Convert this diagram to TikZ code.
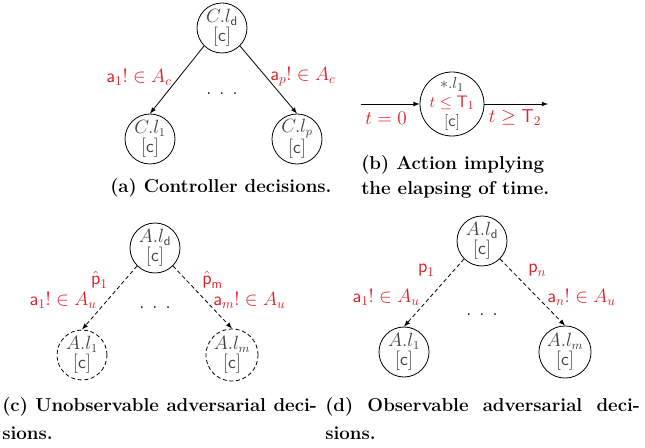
\documentclass[tikz,border=0pt]{standalone}
\usepackage{amsmath,amssymb}
\usepackage{xcolor}
\usepackage{tikz}
\usetikzlibrary{shapes,arrows,positioning,calc}

\definecolor{lblred}{RGB}{222,32,40}
\definecolor{locgray}{RGB}{64,64,64}

\begin{document}
\begin{tikzpicture}[
    x=0.75pt, y=-0.75pt,
    state/.style={draw, circle, line width=0.6pt, minimum size=37.5pt, inner sep=0pt, align=center, text=locgray, font=\fontsize{13.5}{14.5}\selectfont},
    hidden/.style={state, densely dashed},
    timed/.style={state, minimum size=48pt, inner sep=-5pt, font=\fontsize{12.5}{14}\selectfont},
    lbl/.style={text=lblred, inner sep=0pt, font=\fontsize{14}{15}\selectfont},
    dots/.style={inner sep=0pt, font=\fontsize{14}{15}\selectfont},
    caption/.style={inner sep=0pt, anchor=west, align=left, font=\fontsize{14}{19}\selectfont\bfseries},
    longcap/.style={caption, anchor=north west, text width=236pt, align=justify, font=\fontsize{14}{21}\selectfont\bfseries},
    arrow/.style={-latex, line width=0.6pt},
    darrow/.style={arrow, densely dashed}
]
\useasboundingbox (0,0) rectangle (645,448);

% (a) controller decisions
\node[state] (ad) at (222,28) {$C.l_{\textsf{d}}$\\$[\textsf{c}]$};
\node[state] (a1) at (150,139) {$C.l_1$\\$[\textsf{c}]$};
\node[state] (ap) at (297,139) {$C.l_p$\\$[\textsf{c}]$};
\draw[arrow] (ad.south west) -- (a1.north);
\draw[arrow] (ad.south east) -- (ap.north);
\node[lbl, anchor=east] (a1lbl) at (172,77) {$\textsf{a}_1! \in A_c$};
\node[lbl, anchor=west] (aplbl) at (270,77) {$\textsf{a}_p! \in A_c$};
\node[dots] (adots) at (222,94) {.\hspace{6pt}.\hspace{6pt}.};
\node[caption] (acap) at (110,188) {(a) Controller decisions.};

% (b) elapsing of time
\node[timed] (b1) at (452,104) {$*.l_1$\\\textcolor{lblred}{$t \leq \textsf{T}_1$}\\$[\textsf{c}]$};
\coordinate (bin) at (361,104);
\coordinate (bout) at (548,104);
\draw[arrow] (bin) -- (b1);
\draw[arrow] (b1) -- (bout);
\node[lbl] (binlbl) at (386,118) {$t = 0$};
\node[lbl] (boutlbl) at (515,118) {$t \geq \textsf{T}_2$};
\node[caption] (bcap) at (361,177) {(b) Action implying\\the elapsing of time.};

% (c) unobservable adversarial decisions
\node[state] (cd) at (155,248) {$A.l_{\textsf{d}}$\\$[\textsf{c}]$};
\node[hidden] (c1) at (82,355) {$A.l_1$\\$[\textsf{c}]$};
\node[hidden] (cm) at (232,355) {$A.l_m$\\$[\textsf{c}]$};
\draw[darrow] (cd.south west) -- (c1.north);
\draw[darrow] (cd.south east) -- (cm.north);
\node[lbl, anchor=east] (c1p) at (108,280) {$\hat{\textsf{p}}_1$};
\node[lbl, anchor=east] (c1lbl) at (97,300) {$\textsf{a}_1! \in A_u$};
\node[lbl, anchor=west] (cmp) at (202,280) {$\hat{\textsf{p}}_{\textsf{m}}$};
\node[lbl, anchor=west] (cmlbl) at (213,300) {$\textsf{a}_m! \in A_u$};
\node[dots] (cdots) at (155,308) {.\hspace{6pt}.\hspace{6pt}.};
\node[longcap] (ccap) at (2,397) {(c) Unobservable adversarial deci-\linebreak sions.};

% (d) observable adversarial decisions
\node[state] (dd) at (482,241) {$A.l_{\textsf{d}}$\\$[\textsf{c}]$};
\node[state] (d1) at (404,352) {$A.l_1$\\$[\textsf{c}]$};
\node[state] (dm) at (565,352) {$A.l_m$\\$[\textsf{c}]$};
\draw[darrow] (dd.south west) -- (d1.north);
\draw[darrow] (dd.south east) -- (dm.north);
\node[lbl, anchor=east] (d1p) at (435,270) {$\textsf{p}_1$};
\node[lbl, anchor=east] (d1lbl) at (420,297) {$\textsf{a}_1! \in A_u$};
\node[lbl, anchor=west] (dnp) at (528,270) {$\textsf{p}_n$};
\node[lbl, anchor=west] (dnlbl) at (547,297) {$\textsf{a}_n! \in A_u$};
\node[dots] (ddots) at (482,315) {.\hspace{6pt}.\hspace{6pt}.};
\node[longcap] (dcap) at (325,397) {(d) Observable adversarial deci-\linebreak sions.};
\end{tikzpicture}
\end{document}
